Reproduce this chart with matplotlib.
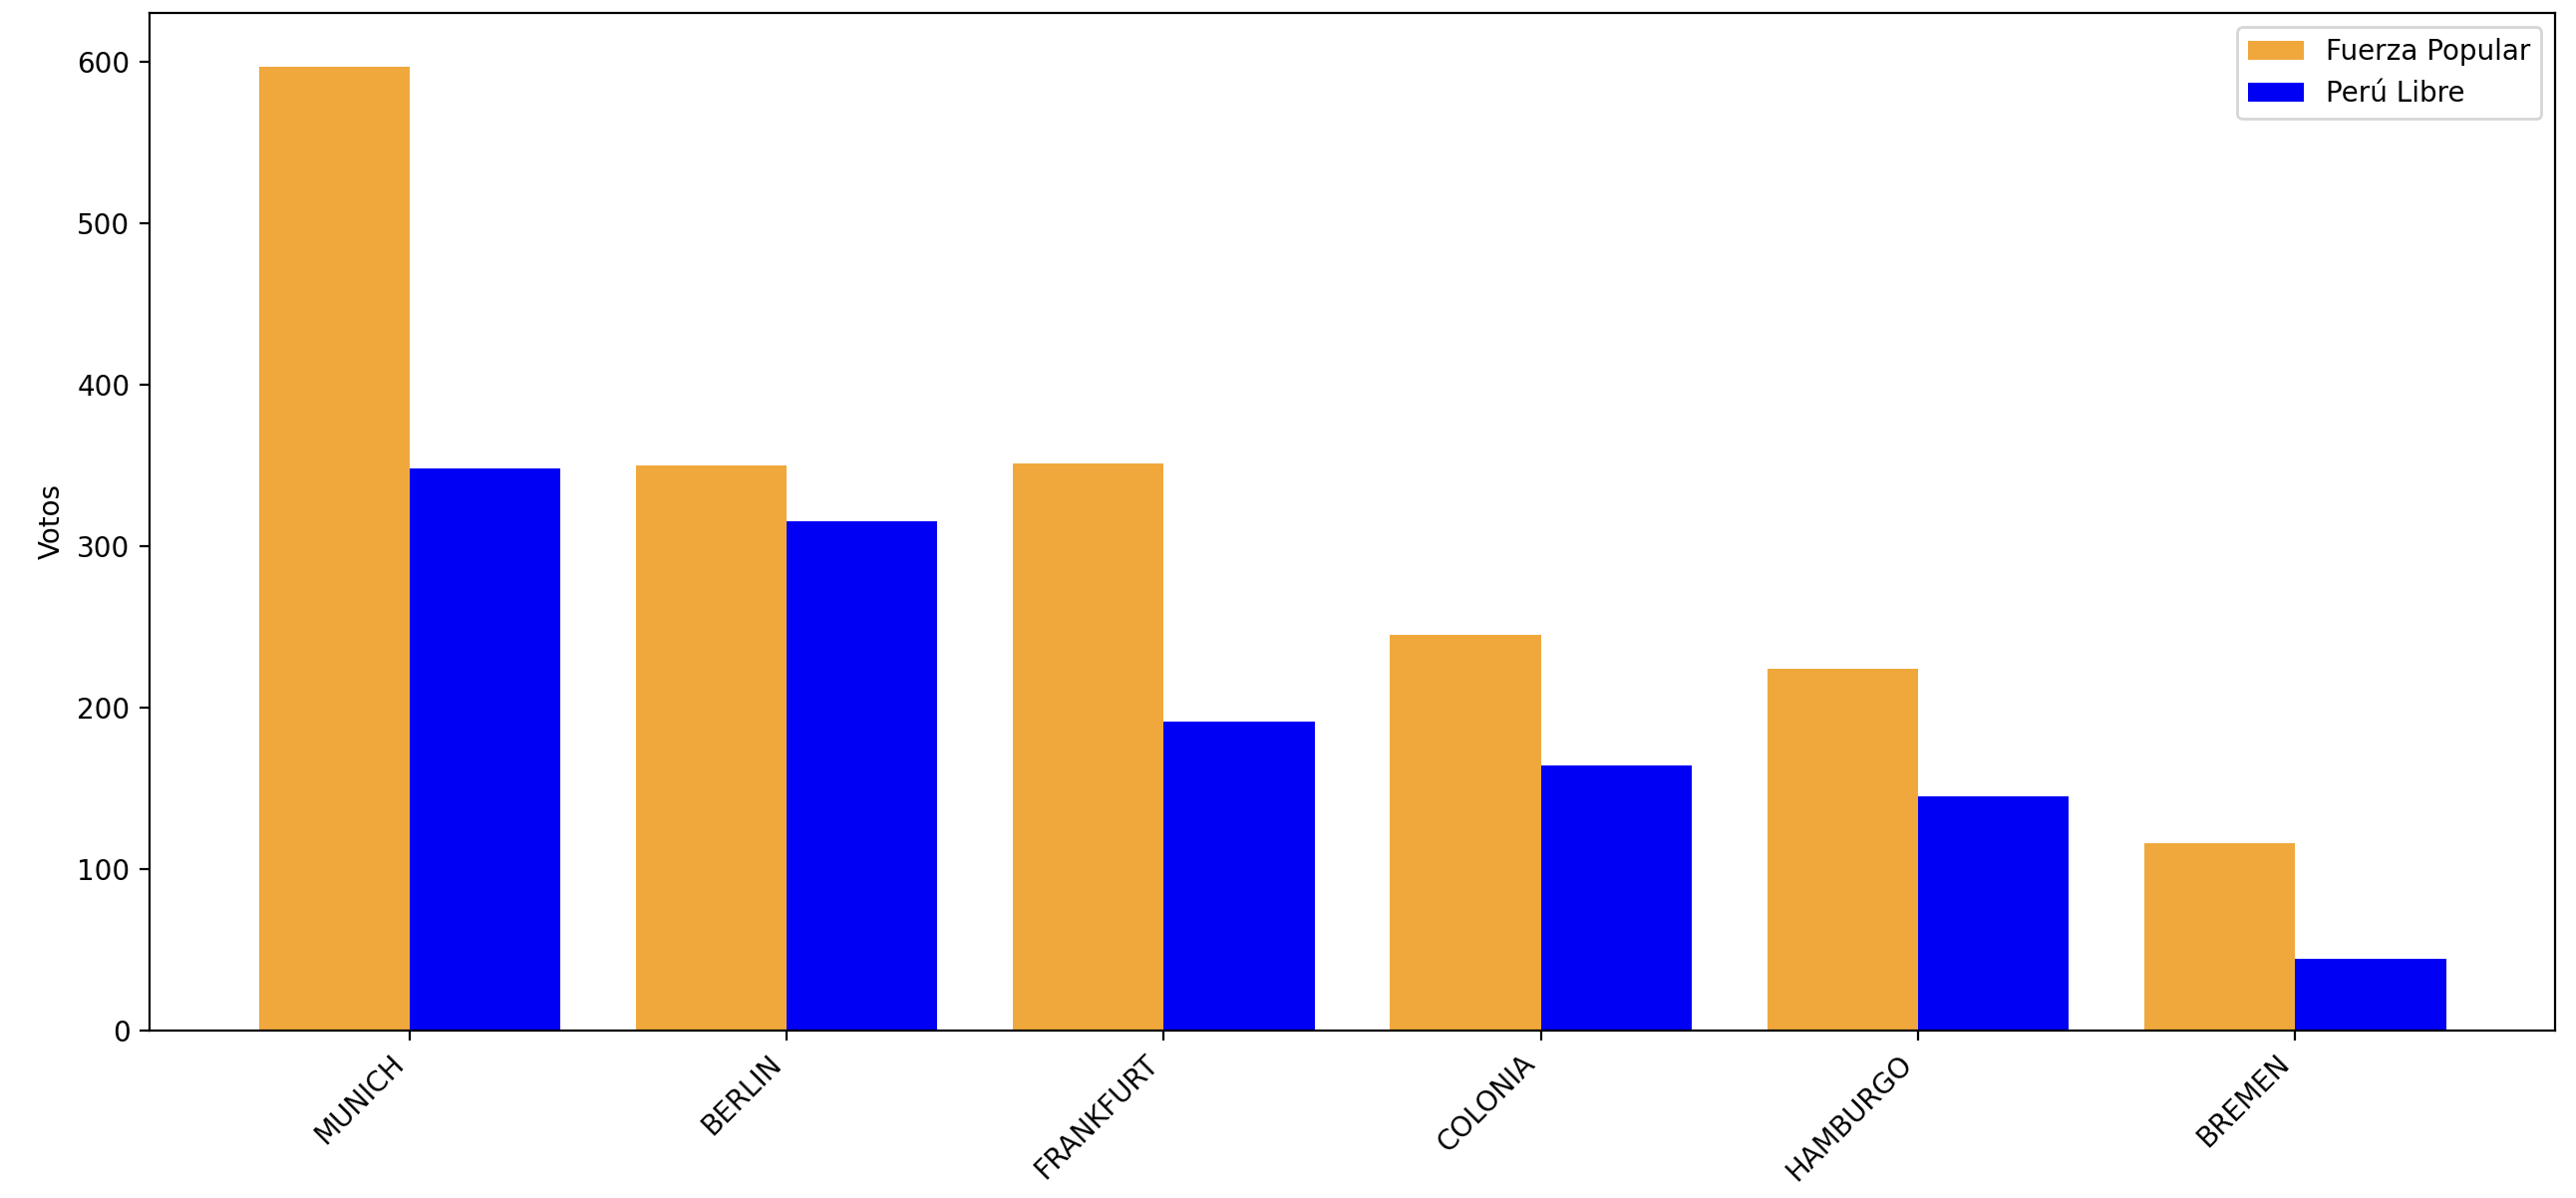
import matplotlib
matplotlib.use("Agg")
import matplotlib.pyplot as plt
import numpy as np

cities = ["MUNICH", "BERLIN", "FRANKFURT", "COLONIA", "HAMBURGO", "BREMEN"]
fuerza_popular = [597, 350, 351, 245, 224, 116]
peru_libre = [348, 315, 191, 164, 145, 44]

x = np.arange(len(cities))
width = 0.4

fig, ax = plt.subplots(figsize=(12.92, 6.01), dpi=200)
ax.bar(x - width / 2, fuerza_popular, width, label="Fuerza Popular", color="#F0A83C")
ax.bar(x + width / 2, peru_libre, width, label="Perú Libre", color="#0000F5")

ax.set_xticks(x)
ax.set_xticklabels(cities, rotation=45, ha="right")
ax.set_ylabel("Votos")
ax.set_ylim(0, 630)
ax.legend(loc="upper right")

fig.subplots_adjust(left=0.058, right=0.992, top=0.989, bottom=0.14)
fig.savefig("out.png")
